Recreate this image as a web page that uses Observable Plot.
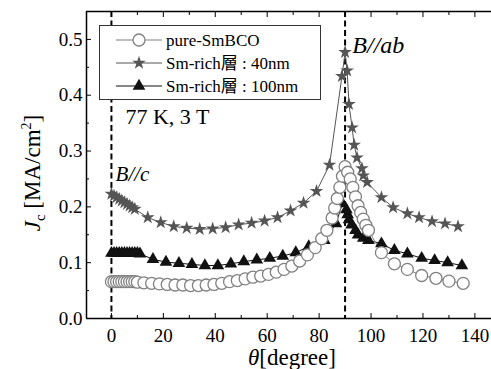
<!DOCTYPE html>
<html><head><meta charset="utf-8">
<script src="https://cdn.jsdelivr.net/npm/d3@7"></script>
<script src="https://cdn.jsdelivr.net/npm/@observablehq/plot@0.6"></script>
<style>body{margin:0;background:#fff} svg{display:block} svg text{font-family:"Liberation Serif","Noto Sans CJK JP",serif}</style>
</head><body><div id="chart"></div>
<script>
// ---- data ----
const seriesNames = ["pure-SmBCO", "Sm-rich層 : 40nm", "Sm-rich層 : 100nm"];

const thetaPure = [0,1,2,3,4,5,6,7,8,9,10,
  12.5,15.5,18.5,21.5,24.5,27.5,30.5,33.5,36.5,39.5,42.5,45.5,48.5,51.5,54.5,57.5,60.5,63.5,66.5,69.5,72.5,75.5,78.5,
  81,83,85,86,87,88,89,90,91,92,93,94,95,96,97,98,99,104,109,114,119.5,125,130,135.5];
const jcPure = [0.066,0.066,0.066,0.066,0.066,0.066,0.066,0.066,0.066,0.066,0.065,
  0.064,0.063,0.062,0.061,0.060,0.060,0.059,0.059,0.060,0.061,0.063,0.066,0.068,0.071,0.074,0.076,0.079,0.083,0.088,0.094,0.103,0.114,0.127,
  0.143,0.158,0.180,0.198,0.215,0.235,0.255,0.272,0.262,0.250,0.235,0.218,0.202,0.190,0.178,0.167,0.158,0.118,0.098,0.088,0.077,0.072,0.067,0.063];

const theta40 = [0,1,2,3,4,5,6,7,8,9,
  14,19,24,29,34,39,44,49,54,59,64,69,74,79,84,
  88.8,90,90.8,91.5,92.7,93.5,94.6,96.5,97,98.5,104,108.5,114,118.5,123.5,128.5,133.5];
const jc40 = [0.223,0.220,0.217,0.214,0.211,0.208,0.205,0.202,0.199,0.196,
  0.181,0.172,0.165,0.162,0.160,0.161,0.163,0.168,0.171,0.175,0.181,0.193,0.207,0.228,0.275,
  0.434,0.477,0.444,0.384,0.342,0.311,0.288,0.269,0.256,0.244,0.217,0.199,0.188,0.181,0.174,0.170,0.165];

const theta100 = [0,1,2,3,4,5,6,7,8,9,10,11,
  16,21,26,31,36,41,46,51,56,61,66,71,76,82,86.5,
  89,90.5,91,91.5,92.5,94,95,97,99,104,109,114,119.5,124.5,129.5,135];
const jc100 = [0.117,0.117,0.117,0.117,0.117,0.117,0.117,0.117,0.117,0.117,0.117,0.116,
  0.106,0.101,0.099,0.097,0.095,0.095,0.098,0.102,0.105,0.108,0.112,0.118,0.129,0.140,0.170,
  0.206,0.195,0.186,0.177,0.168,0.158,0.150,0.144,0.140,0.134,0.122,0.116,0.108,0.104,0.100,0.095];

const xTicks = [0,20,40,60,80,100,120,140];
const xMinor = [10,30,50,70,90,110,130];
const yTicks = [0,0.1,0.2,0.3,0.4,0.5];
const yMinor = [0.05,0.15,0.25,0.35,0.45];
const fieldAngles = [0, 90];

// ---- build tables ----
const pure = thetaPure.map((t, i) => ({theta: t, jc: jcPure[i]}));
const s40 = theta40.map((t, i) => ({theta: t, jc: jc40[i]}));
const s100 = theta100.map((t, i) => ({theta: t, jc: jc100[i]}));

const FONT = "Liberation Serif, Noto Sans CJK JP, serif";
const xDomain = [-9.6, 146.4];
const yDomain = [0, 0.55];
const cPure = "#808080", c40 = "#555555", c100 = "#111111";
const blank = () => "";

const plot = Plot.plot({
  width: 491, height: 369,
  marginLeft: 86, marginRight: 0, marginTop: 11, marginBottom: 51,
  x: {domain: xDomain},
  y: {domain: yDomain},
  style: {fontFamily: FONT, fontSize: "19px", color: "black", background: "white"},
  marks: [
    Plot.ruleX(fieldAngles, {stroke: "black", strokeWidth: 2, strokeDasharray: "6,3.5"}),
    Plot.line(s100, {x: "theta", y: "jc", stroke: c100, strokeWidth: 1}),
    Plot.line(pure, {x: "theta", y: "jc", stroke: cPure, strokeWidth: 1}),
    Plot.line(s40, {x: "theta", y: "jc", stroke: c40, strokeWidth: 1}),
    Plot.dot(s100, {x: "theta", y: "jc", symbol: "triangle", r: 4.7, fill: c100, stroke: "none"}),
    Plot.dot(pure, {x: "theta", y: "jc", symbol: "circle", r: 6, fill: "white", stroke: cPure, strokeWidth: 1.3}),
    Plot.dot(s40, {x: "theta", y: "jc", symbol: "star", r: 4.3, fill: c40, stroke: "none"}),
    // axes
    Plot.axisX({ticks: xTicks, tickSize: -5, tickPadding: 15, label: null, fontSize: 19}),
    Plot.axisX({ticks: xMinor, tickSize: -3, tickFormat: blank, label: null}),
    Plot.axisX({anchor: "top", ticks: xTicks, tickSize: -5, tickFormat: blank, label: null}),
    Plot.axisX({anchor: "top", ticks: xMinor, tickSize: -3, tickFormat: blank, label: null}),
    Plot.axisY({ticks: yTicks, tickSize: -5, tickPadding: 9, tickFormat: d3.format(".1f"), label: null, fontSize: 19}),
    Plot.axisY({ticks: yMinor, tickSize: -3, tickFormat: blank, label: null}),
    Plot.ruleX([xDomain[0]], {stroke: "black", strokeWidth: 1.5}),
    Plot.ruleY([yDomain[0], yDomain[1]], {stroke: "black", strokeWidth: 1.5}),
    // annotations
    Plot.text(["77 K, 3 T"], {x: 5.4, y: 0.349, text: d => d, textAnchor: "start", lineAnchor: "bottom", fontSize: 22}),
    Plot.text(["B//c"], {x: 1.6, y: 0.247, text: d => d, textAnchor: "start", lineAnchor: "bottom", fontSize: 21, fontStyle: "italic"}),
    Plot.text(["B//ab"], {x: 92.8, y: 0.475, text: d => d, textAnchor: "start", lineAnchor: "bottom", fontSize: 24, fontStyle: "italic"})
  ]
});

const svg = d3.select(plot);

// legend
const lg = svg.append("g").style("font-family", FONT).attr("font-size", 17).attr("text-anchor", "start");
lg.append("rect").attr("x", 99.5).attr("y", 25.5).attr("width", 221).attr("height", 74)
  .attr("fill", "white").attr("stroke", "#333").attr("stroke-width", 1);
const rows = [
  {name: seriesNames[0], color: cPure, type: "circle"},
  {name: seriesNames[1], color: c40, type: "star"},
  {name: seriesNames[2], color: c100, type: "triangle"}
];
rows.forEach((r, i) => {
  const cy = 40 + i * 23;
  lg.append("line").attr("x1", 116).attr("x2", 162).attr("y1", cy).attr("y2", cy)
    .attr("stroke", r.color).attr("stroke-width", 1.2);
  if (r.type === "circle") {
    lg.append("circle").attr("cx", 139).attr("cy", cy).attr("r", 6)
      .attr("fill", "white").attr("stroke", r.color).attr("stroke-width", 1.3);
  } else {
    const sym = r.type === "star" ? d3.symbolStar : d3.symbolTriangle;
    const rr = r.type === "star" ? 4.3 : 4.7;
    lg.append("path").attr("transform", `translate(139,${cy})`)
      .attr("d", d3.symbol(sym, Math.PI * rr * rr)()).attr("fill", r.color);
  }
  lg.append("text").attr("x", 166).attr("y", cy + 6).attr("fill", "black")
    .attr("text-anchor", "start").text(r.name);
});

// axis titles
const yl = svg.append("text").style("font-family", FONT).attr("font-size", 23).attr("fill", "black")
  .attr("text-anchor", "middle").attr("transform", "translate(40,173) rotate(-90)");
yl.append("tspan").attr("font-style", "italic").text("J");
yl.append("tspan").attr("font-size", 15).attr("dy", 5).text("c");
yl.append("tspan").attr("dy", -5).text(" [MA/cm");
yl.append("tspan").attr("font-size", 14).attr("dy", -9).text("2");
yl.append("tspan").attr("dy", 9).text("]");

const xl = svg.append("text").style("font-family", FONT).attr("font-size", 23).attr("fill", "black")
  .attr("text-anchor", "middle").attr("x", 292).attr("y", 365);
xl.append("tspan").attr("font-style", "italic").text("θ");
xl.append("tspan").text("[degree]");

document.getElementById("chart").appendChild(plot);
</script></body></html>
